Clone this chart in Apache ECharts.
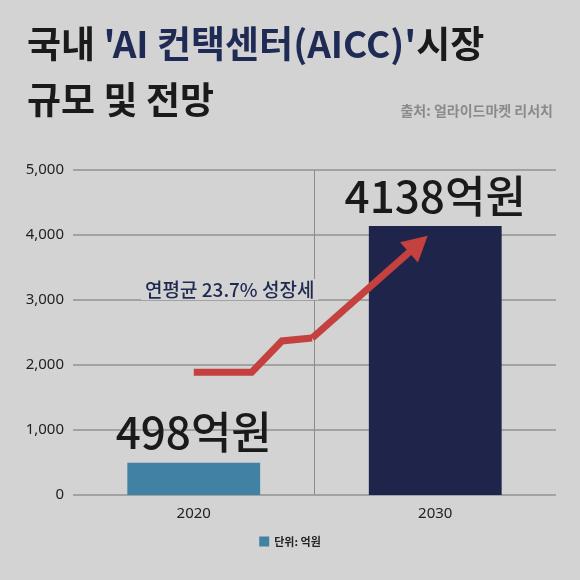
<!DOCTYPE html>
<html>
<head>
<meta charset="utf-8">
<script src="https://cdn.jsdelivr.net/npm/echarts@6/dist/echarts.min.js"></script>
<style>
  html, body { margin: 0; padding: 0; background: #d3d3d3; }
  #chart { width: 580px; height: 580px; }
</style>
</head>
<body>
<div id="chart"></div>
<script>
  // 시장 규모 (단위: 억원)
  let years = ['2020', '2030']
  let marketSize = [498, 4138]
  let yTicks = [0, 1000, 2000, 3000, 4000, 5000]
  // 성장 화살표 경로 (x: 카테고리 위치, y: 억원)
  let arrowX = [0.5, 0.74, 0.865, 0.99, 1.43]
  let arrowY = [1890, 1890, 2370, 2415, 3860]

  let fontCJK = 'Noto Sans CJK KR'
  let barColors = ['#4181a3', '#1f254a']
  let myChart = echarts.init(document.getElementById('chart'))

  let arrowData = arrowX.map(function (x, i) {
    return [x, arrowY[i]]
  })
  let last = arrowData.length - 1

  let option = {
    backgroundColor: '#d3d3d3',
    animation: false,
    title: [{
      left: 22,
      top: 11,
      text: '{a|국내 }{b|\'AI 컨택센터(AICC)\'}{a|시장}\n{a|규모 및 전망}',
      textStyle: {
        rich: {
          a: { fontFamily: fontCJK, fontSize: 37, fontWeight: 'bold', color: '#1a1a1a', lineHeight: 56 },
          b: { fontFamily: fontCJK, fontSize: 37, fontWeight: 'bold', color: '#1f2a55', lineHeight: 56 }
        }
      }
    }, {
      right: 22,
      top: 99,
      text: '출처: 얼라이드마켓 리서치',
      textStyle: { fontFamily: fontCJK, fontSize: 14, fontWeight: 'bold', color: '#8a8a8a' }
    }],
    legend: {
      bottom: 28,
      left: 'center',
      icon: 'rect',
      itemWidth: 10,
      itemHeight: 10,
      itemGap: 6,
      textStyle: { fontFamily: fontCJK, fontSize: 11, fontWeight: 'bold', color: '#222' },
      data: ['단위: 억원']
    },
    grid: { left: 73, right: 24, top: 170, bottom: 85 },
    xAxis: [{
      type: 'category',
      data: years,
      axisLine: { show: false },
      axisTick: { show: false },
      axisLabel: { fontFamily: 'Noto Sans', fontSize: 15, color: '#222', margin: 11 },
      splitLine: {
        show: true,
        lineStyle: { color: ['rgba(0,0,0,0)', '#8c8c8c', 'rgba(0,0,0,0)'], width: 1 }
      }
    }, {
      type: 'value',
      min: 0,
      max: 2,
      show: false
    }],
    yAxis: {
      type: 'value',
      min: yTicks[0],
      max: yTicks[yTicks.length - 1],
      interval: yTicks[1] - yTicks[0],
      axisLine: { show: false },
      axisTick: { show: false },
      axisLabel: {
        fontFamily: 'Noto Sans',
        fontSize: 15,
        color: '#222',
        margin: 9,
        formatter: function (v) { return v.toLocaleString('en-US') }
      },
      splitLine: { lineStyle: { color: '#a2a2a2', width: 2 } }
    },
    graphic: [{
      type: 'text',
      left: 141,
      top: 279,
      z: 10,
      style: {
        text: '연평균 23.7% 성장세',
        fontFamily: fontCJK,
        fontSize: 19,
        fontWeight: 500,
        fill: '#1f2a50',
        backgroundColor: '#d3d3d3',
        padding: [1, 4]
      }
    }],
    series: [{
      name: '단위: 억원',
      type: 'bar',
      barWidth: '55%',
      itemStyle: { color: barColors[0] },
      label: {
        show: true,
        position: 'top',
        distance: 8,
        fontFamily: fontCJK,
        fontSize: 44,
        fontWeight: 500,
        color: '#1a1a1a',
        formatter: '{c}억원'
      },
      data: marketSize.map(function (v, i) {
        return { value: v, itemStyle: { color: barColors[i] } }
      })
    }, {
      name: 'arrow',
      type: 'line',
      xAxisIndex: 1,
      showSymbol: false,
      silent: true,
      z: 5,
      lineStyle: { color: '#c4413f', width: 7, join: 'miter', cap: 'butt' },
      data: arrowData.slice(0, last),
      markLine: {
        silent: true,
        symbol: ['none', 'triangle'],
        symbolSize: [27, 25],
        label: { show: false },
        lineStyle: { color: '#c4413f', width: 7, type: 'solid' },
        data: [[{ coord: arrowData[last - 1] }, { coord: arrowData[last] }]]
      }
    }]
  }
  myChart.setOption(option)
</script>
</body>
</html>
